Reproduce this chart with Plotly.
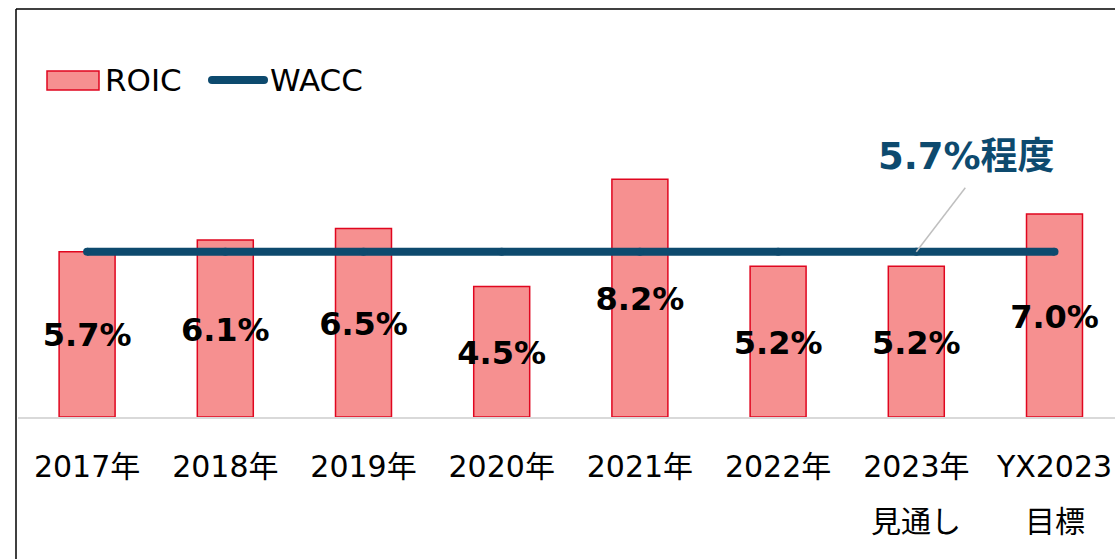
import plotly.graph_objects as go

# ---- data ----
categories = ["2017年", "2018年", "2019年", "2020年", "2021年", "2022年", "2023年", "YX2023"]
sub_labels = ["", "", "", "", "", "", "見通し", "目標"]
roic = [5.7, 6.1, 6.5, 4.5, 8.2, 5.2, 5.2, 7.0]
wacc = [5.7, 5.7, 5.7, 5.7, 5.7, 5.7, 5.7, 5.7]
wacc_note = "5.7%程度"

# ---- geometry ----
W, H = 1115, 559
L, R, T, B = 18, 0, 10, 142
plot_w = W - L - R
plot_h = H - T - B
step_px = 138.2            # px per category
unit_px = 29.0             # px per 1%
x_idx = list(range(len(categories)))
label_shift = 4 / unit_px  # data labels sit slightly below bar middle

def px_x(px):
    return (px - L) / plot_w

def px_y(py):
    return (H - B - py) / plot_h

FONT = "DejaVu Sans, Noto Sans CJK JP, sans-serif"
BLUE = "#0D4A6E"
BAR_FILL = "#F69090"
BAR_LINE = "#E0061F"

fig = go.Figure()

fig.add_trace(go.Bar(
    x=x_idx, y=roic, width=0.405, name="ROIC",
    marker=dict(color=BAR_FILL, line=dict(color=BAR_LINE, width=1.5)),
    showlegend=False, hoverinfo="skip",
))

fig.add_trace(go.Scatter(
    x=x_idx, y=wacc, mode="lines+markers", name="WACC",
    line=dict(color=BLUE, width=8),
    marker=dict(color=BLUE, size=8),
    showlegend=False, hoverinfo="skip",
))

fig.add_trace(go.Scatter(
    x=x_idx, y=[v / 2 - label_shift for v in roic], mode="text",
    text=[f"{v:.1f}%" for v in roic], textposition="middle center",
    textfont=dict(family=FONT, size=32, color="black", weight="bold"),
    showlegend=False, hoverinfo="skip",
))

# second line of category labels
annotations = []
for i, s in enumerate(sub_labels):
    if s:
        annotations.append(dict(
            x=i, y=px_y(521), xref="x", yref="paper", text=s, showarrow=False,
            font=dict(family=FONT, size=30, color="black"),
            xanchor="center", yanchor="middle",
        ))

# callout for WACC
note_dx, note_dy = 49 / step_px, 64 / unit_px
annotations.append(dict(
    x=6 + (966 - 916) / step_px, y=wacc[6] + (252 - 157) / unit_px,
    xref="x", yref="y", text=wacc_note, showarrow=False,
    font=dict(family=FONT, size=37, color=BLUE, weight="bold"),
    xanchor="center", yanchor="middle",
))

# manual legend
annotations.append(dict(x=px_x(103), y=px_y(80), xref="paper", yref="paper",
                        text="ROIC", showarrow=False, xanchor="left", yanchor="middle",
                        font=dict(family=FONT, size=31, color="black")))
annotations.append(dict(x=px_x(268), y=px_y(80), xref="paper", yref="paper",
                        text="WACC", showarrow=False, xanchor="left", yanchor="middle",
                        font=dict(family=FONT, size=31, color="black")))

shapes = [
    # frame (left & top visible)
    dict(type="line", xref="paper", yref="paper", x0=px_x(16), x1=px_x(16),
         y0=px_y(9), y1=px_y(H + 5), line=dict(color="black", width=1.5)),
    dict(type="line", xref="paper", yref="paper", x0=px_x(16), x1=px_x(W + 5),
         y0=px_y(9), y1=px_y(9), line=dict(color="black", width=1.5)),
    # leader line
    dict(type="line", xref="x", yref="y", x0=6, y0=wacc[6],
         x1=6 + note_dx, y1=wacc[6] + note_dy, line=dict(color="#BFBFBF", width=1.5)),
    # legend swatches
    dict(type="rect", xref="paper", yref="paper", x0=px_x(47), x1=px_x(99),
         y0=px_y(90), y1=px_y(71), fillcolor=BAR_FILL, line=dict(color=BAR_LINE, width=1.5)),
    dict(type="line", xref="paper", yref="paper", x0=px_x(212), x1=px_x(264),
         y0=px_y(80), y1=px_y(80), line=dict(color=BLUE, width=8)),
    dict(type="circle", xref="paper", yref="paper", x0=px_x(208), x1=px_x(216),
         y0=px_y(84), y1=px_y(76), fillcolor=BLUE, line=dict(width=0)),
    dict(type="circle", xref="paper", yref="paper", x0=px_x(260), x1=px_x(268),
         y0=px_y(84), y1=px_y(76), fillcolor=BLUE, line=dict(width=0)),
]

fig.update_layout(
    width=W, height=H,
    margin=dict(l=L, r=R, t=T, b=B, pad=0),
    paper_bgcolor="white", plot_bgcolor="white",
    font=dict(family=FONT, color="black"),
    showlegend=False,
    xaxis=dict(range=[-0.5, -0.5 + plot_w / step_px], tickvals=x_idx, ticktext=categories,
               tickfont=dict(family=FONT, size=30, color="black"),
               showgrid=False, zeroline=False, showline=True, linecolor="#D9D9D9",
               linewidth=1.5, ticks="", ticklabelstandoff=22, fixedrange=True),
    yaxis=dict(range=[0, plot_h / unit_px], visible=False, showgrid=False, zeroline=False,
               fixedrange=True),
    annotations=annotations,
    shapes=shapes,
)

fig.write_html("out.html", config={"displayModeBar": False, "staticPlot": True})

# remove the browser's default page margin so the figure sits at (0, 0)
with open("out.html", "r", encoding="utf-8") as f:
    html = f.read()
html = html.replace("<head>", "<head><style>html,body{margin:0;padding:0;overflow:hidden;}</style>", 1)
with open("out.html", "w", encoding="utf-8") as f:
    f.write(html)
